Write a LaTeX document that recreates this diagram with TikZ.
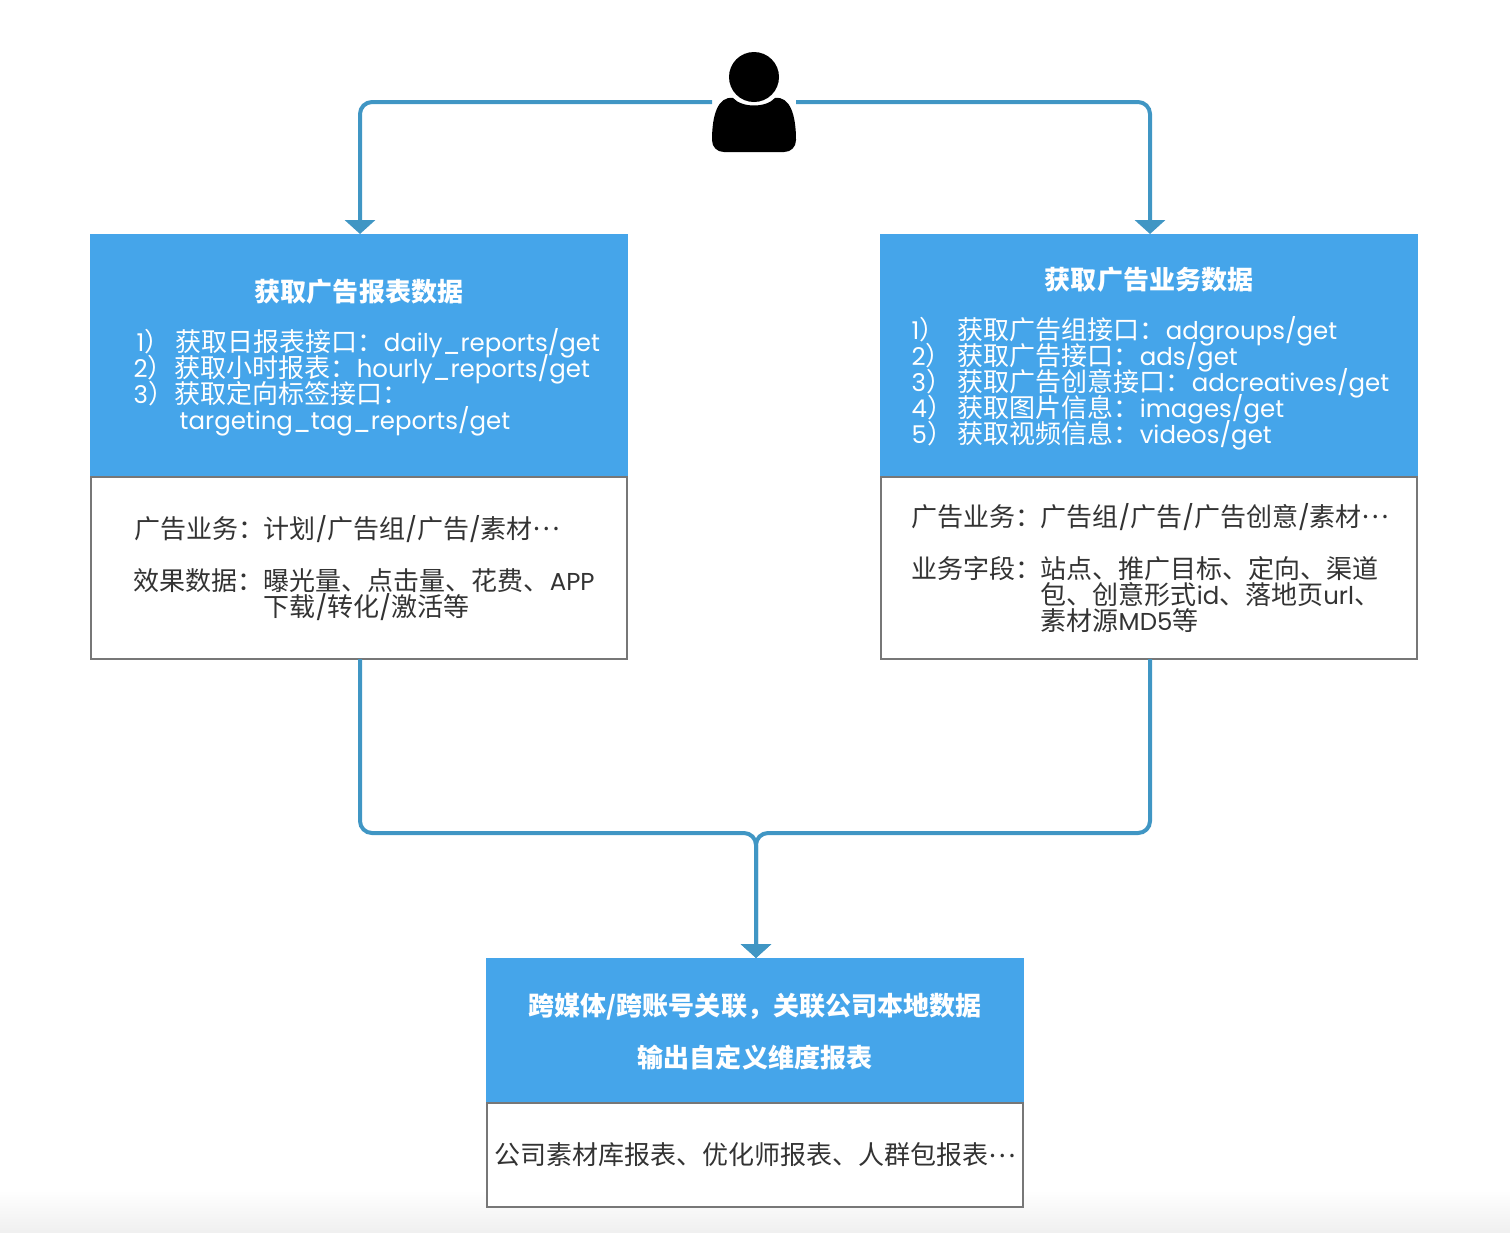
\documentclass[tikz,border=0pt]{standalone}
\usepackage{fontspec}
\setmainfont[Scale=0.94]{Poppins}
\newfontfamily\cjk{Noto Sans CJK SC}
\newcommand{\mdots}{\raisebox{.3em}{…}}
\usetikzlibrary{arrows.meta}
\definecolor{headblue}{HTML}{45A5EA}
\definecolor{linkblue}{HTML}{4096C4}
\definecolor{framegray}{HTML}{777777}
\definecolor{bodytext}{HTML}{333333}
\tikzset{
  headbox/.style={fill=headblue,minimum height=#1,minimum width=5.38cm,inner sep=0pt,outer sep=0pt},
  bodybox/.style={draw=framegray,fill=white,line width=.02cm,minimum height=#1,minimum width=5.36cm,inner sep=0pt,outer sep=0pt},
  link/.style={draw=linkblue,line width=.04cm,rounded corners=.12cm,-{Triangle[width=.3cm,length=.14cm]}},
  title/.style={text=white,font=\fontsize{7.4pt}{9pt}\selectfont\cjk\bfseries,inner sep=0pt},
  headtxt/.style={text=white,font=\fontsize{7.4pt}{9pt}\selectfont,anchor=base west,inner sep=0pt},
  bodytxt/.style={text=bodytext,font=\fontsize{7.4pt}{9pt}\selectfont,anchor=base west,inner sep=0pt}
}
\begin{document}
\begin{tikzpicture}[y=-1cm]
  \useasboundingbox (0,0) rectangle (15.10,12.32);
  \shade[top color=white,bottom color=black!6] (0,11.9) rectangle (15.10,12.32);
  % boxes
  \node[headbox=2.43cm] (headL) at (3.59,3.555) {};
  \node[bodybox=1.82cm] (bodyL) at (3.59,5.68) {};
  \node[headbox=2.43cm] (headR) at (11.49,3.555) {};
  \node[bodybox=1.82cm] (bodyR) at (11.49,5.68) {};
  \node[headbox=1.45cm] (headB) at (7.55,10.305) {};
  \node[bodybox=1.04cm] (bodyB) at (7.55,11.55) {};
  % person
  \node[minimum width=.84cm,minimum height=1cm,inner sep=0pt,outer sep=0pt] (user) at (7.54,1.02) {};
  \fill (7.54,.77) circle (.25);
  \fill (7.33,.98) .. controls (7.42,1.08) and (7.66,1.08) .. (7.75,.98)
    .. controls (7.90,.96) and (7.96,1.15) .. (7.96,1.40)
    .. controls (7.96,1.47) and (7.91,1.52) .. (7.84,1.52)
    -- (7.24,1.52)
    .. controls (7.17,1.52) and (7.12,1.47) .. (7.12,1.40)
    .. controls (7.12,1.15) and (7.18,.96) .. (7.33,.98) -- cycle;
  % connectors
  \coordinate (merge) at (7.56,8.33);
  \draw[link] (user.west) -| ([xshift=.01cm]headL.north);
  \draw[link] (user.east) -| ([xshift=.01cm]headR.north);
  \draw[link] ([xshift=.01cm]bodyL.south) |- (merge) -- ([xshift=.01cm]headB.north);
  \draw[link] ([xshift=.01cm]bodyR.south) |- (merge) -- ([xshift=.01cm]headB.north);
  % left head
  \node[title] (titleL) at (3.59,2.92) {获取广告报表数据};
  \node[headtxt] (ln1) at (1.36,3.51) {1{\cjk ）}};
  \node[headtxt] (ln2) at (1.33,3.77) {2{\cjk ）}};
  \node[headtxt] (ln3) at (1.33,4.03) {3{\cjk ）}};
  \node[headtxt] (l1) at (1.75,3.51) {{\cjk 获取日报表接口：}daily\textunderscore reports/get};
  \node[headtxt] (l2) at (1.74,3.77) {{\cjk 获取小时报表：}hourly\textunderscore reports/get};
  \node[headtxt] (l3) at (1.74,4.03) {\cjk 获取定向标签接口：};
  \node[headtxt] (l4) at (1.79,4.29) {targeting\textunderscore tag\textunderscore reports/get};
  % left body
  \node[bodytxt] (l5) at (1.34,5.38) {\cjk 广告业务：};
  \node[bodytxt] (l6) at (2.63,5.38) {{\cjk 计划}/{\cjk 广告组}/{\cjk 广告}/{\cjk 素材\mdots}};
  \node[bodytxt] (l7) at (1.33,5.90) {\cjk 效果数据：};
  \node[bodytxt] (l8) at (2.63,5.90) {{\cjk 曝光量、点击量、花费、}APP};
  \node[bodytxt] (l9) at (2.63,6.16) {{\cjk 下载}/{\cjk 转化}/{\cjk 激活等}};
  % right head
  \node[title] (titleR) at (11.49,2.80) {获取广告业务数据};
  \foreach \i in {1,...,5}{
    \node[headtxt] (rn\i) at (9.11,{3.13+.26*\i}) {\i{\cjk ）}};
  }
  \node[headtxt] (r1) at (9.57,3.39) {{\cjk 获取广告组接口：}adgroups/get};
  \node[headtxt] (r2) at (9.57,3.65) {{\cjk 获取广告接口：}ads/get};
  \node[headtxt] (r3) at (9.57,3.91) {{\cjk 获取广告创意接口：}adcreatives/get};
  \node[headtxt] (r4) at (9.57,4.17) {{\cjk 获取图片信息：}images/get};
  \node[headtxt] (r5) at (9.57,4.43) {{\cjk 获取视频信息：}videos/get};
  % right body
  \node[bodytxt] (r6) at (9.11,5.26) {\cjk 广告业务：};
  \node[bodytxt] (r7) at (10.40,5.26) {{\cjk 广告组}/{\cjk 广告}/{\cjk 广告创意}/{\cjk 素材\mdots}};
  \node[bodytxt] (r8) at (9.11,5.78) {\cjk 业务字段：};
  \node[bodytxt] (r9) at (10.40,5.78) {\cjk 站点、推广目标、定向、渠道};
  \node[bodytxt] (r10) at (10.40,6.04) {{\cjk 包、创意形式}id{\cjk 、落地页}url{\cjk 、}};
  \node[bodytxt] (r11) at (10.40,6.30) {{\cjk 素材源}MD5{\cjk 等}};
  % bottom
  \node[title] (titleB1) at (7.55,10.07) {跨媒体/跨账号关联，关联公司本地数据};
  \node[title] (titleB2) at (7.55,10.57) {输出自定义维度报表};
  \node[bodytxt,anchor=center] (b1) at (7.55,11.55) {\cjk 公司素材库报表、优化师报表、人群包报表\mdots};
\end{tikzpicture}
\end{document}
